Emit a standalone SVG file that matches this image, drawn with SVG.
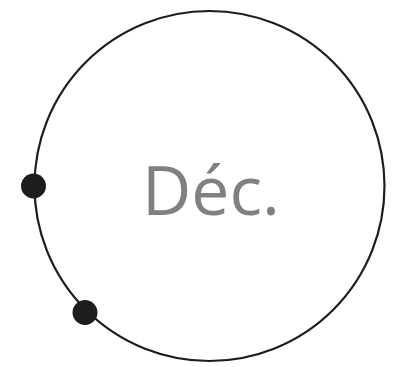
<svg xmlns="http://www.w3.org/2000/svg" width="398" height="367" viewBox="0 0 398 367">
<style>
.ring{fill:none;stroke:#1d1d1b;stroke-width:2.2}
.dot{fill:#1d1d1b}
.lbl{font-family:"Open Sans","DejaVu Sans",sans-serif;font-size:68px;fill:#808083;text-anchor:middle}
</style>
<rect width="398" height="367" fill="#ffffff"/>
<g id="ring"><circle class="ring" cx="209.5" cy="186" r="175"/></g>
<g id="label"><text class="lbl" x="211" y="215">Déc.</text></g>
<g id="dot1"><circle class="dot" cx="33.5" cy="186" r="12.5"/></g>
<g id="dot2"><circle class="dot" cx="85" cy="312.5" r="12.5"/></g>
</svg>
